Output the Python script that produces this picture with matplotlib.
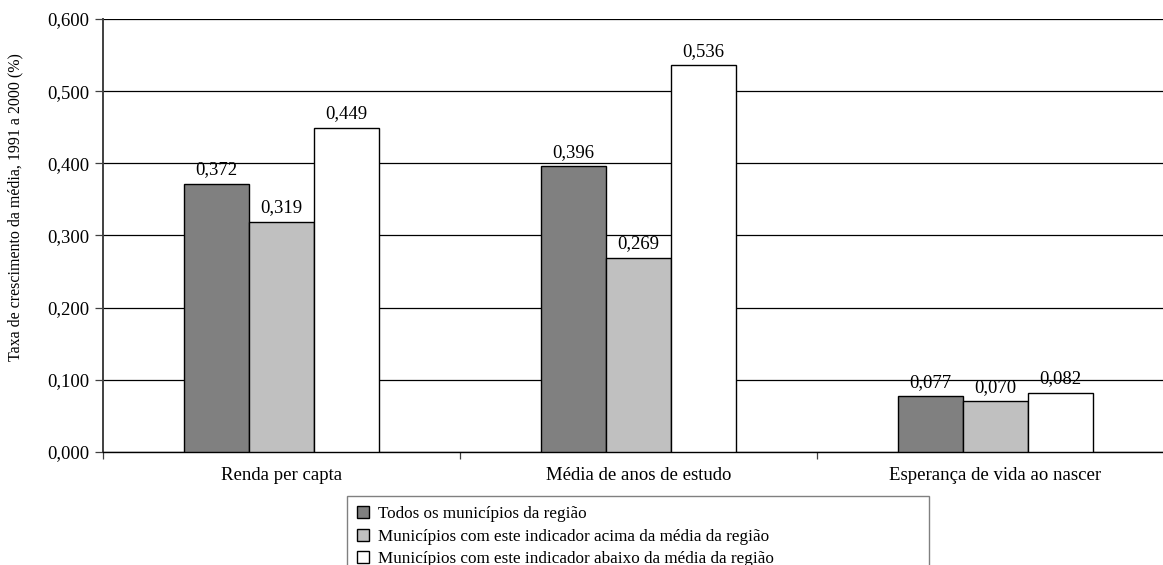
import matplotlib
matplotlib.use("Agg")
import matplotlib.pyplot as plt
import numpy as np

categories = ["Renda per capta", "Média de anos de estudo", "Esperança de vida ao nascer"]
series_names = [
    "Todos os municípios da região",
    "Municípios com este indicador acima da média da região",
    "Municípios com este indicador abaixo da média da região",
]
todos = [0.372, 0.396, 0.077]
acima = [0.319, 0.269, 0.070]
abaixo = [0.449, 0.536, 0.082]
yticks = [0.0, 0.1, 0.2, 0.3, 0.4, 0.5, 0.6]

colors = ["#808080", "#c0c0c0", "#ffffff"]
plt.rcParams["font.family"] = ["Liberation Serif", "DejaVu Serif"]
FS = 13.5
FS_LEG = 12.3

W, H = 1163, 565
fig = plt.figure(figsize=(W / 100, H / 100), dpi=100)
ax = fig.add_axes([103 / W, 1 - 452 / H, 1071 / W, (452 - 19) / H])

x = np.arange(len(categories))
bw = 0.182
series = [todos, acima, abaixo]
for k, (vals, col, name) in enumerate(zip(series, colors, series_names)):
    bars = ax.bar(x + (k - 1) * bw, vals, bw, color=col, edgecolor="black",
                  linewidth=1.0, label=name, zorder=3)
    for b, v in zip(bars, vals):
        ax.annotate(f"{v:.3f}".replace(".", ","),
                    (b.get_x() + b.get_width() / 2, v),
                    xytext=(0, 4), textcoords="offset points",
                    ha="center", va="bottom", fontsize=FS, zorder=4)

ax.set_xlim(-0.5, 2.5)
ax.set_ylim(0, 0.6)
ax.set_yticks(yticks)
ax.set_yticklabels([f"{t:.3f}".replace(".", ",") for t in yticks], fontsize=FS)
ax.yaxis.grid(True, color="black", linewidth=0.9, zorder=0)
ax.set_axisbelow(True)

ax.set_xticks(x)
ax.set_xticklabels(categories, fontsize=FS)
ax.set_xticks([-0.5, 0.5, 1.5, 2.5], minor=True)
ax.tick_params(axis="x", which="major", length=0, pad=11)
ax.tick_params(axis="x", which="minor", length=5, width=0.9, color="#404040", direction="out")
ax.tick_params(axis="y", length=6, width=0.9, color="#404040", direction="out", pad=4)

for s in ["top", "right"]:
    ax.spines[s].set_visible(False)
ax.spines["left"].set_color("#404040")
ax.spines["left"].set_linewidth(1.4)
ax.spines["bottom"].set_color("black")
ax.spines["bottom"].set_linewidth(1.0)

ax.set_ylabel("Taxa de crescimento da média, 1991 a 2000 (%)", fontsize=11.5)
ax.yaxis.set_label_coords(-0.0745, 0.566)

leg = fig.legend(loc="upper left",
                 bbox_to_anchor=(347 / W, 0, (929 - 347) / W, 1 - 496 / H),
                 mode="expand", borderaxespad=0, fancybox=False,
                 edgecolor="#808080", fontsize=FS_LEG, handlelength=0.7,
                 handleheight=0.7, handletextpad=0.5, labelspacing=0.38,
                 borderpad=0.6, framealpha=1)
leg.get_frame().set_linewidth(1.0)

fig.savefig("out.png", dpi=100)
